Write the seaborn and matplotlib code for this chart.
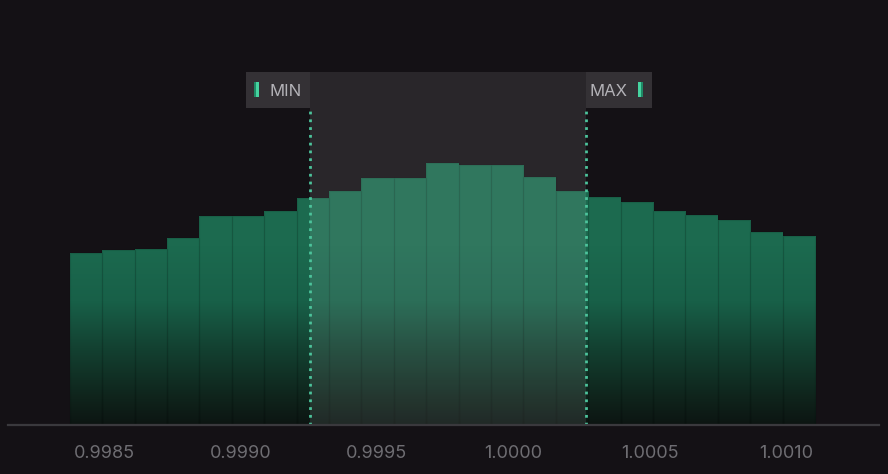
import numpy as np
import pandas as pd
import matplotlib
matplotlib.use('Agg')
import matplotlib.pyplot as plt
import seaborn as sns
from matplotlib.colors import LinearSegmentedColormap
from matplotlib.patches import Rectangle

# Histogram data
bin_start = 0.998375
bin_end = 1.001106
counts = [172, 175, 176, 187, 209, 209, 214, 227, 234, 247, 247, 262,
          260, 260, 248, 234, 228, 223, 214, 210, 205, 193, 189]
tick_values = [0.9985, 0.9990, 0.9995, 1.0000, 1.0005, 1.0010]
tick_labels = ["0.9985", "0.9990", "0.9995", "1.0000", "1.0005", "1.0010"]
range_min = 0.999255
range_max = 1.000267

# Colours
BG = "#141115"
GREEN_STOPS = [(0.0, "#0c1512"), (0.06, "#0f231b"), (0.18, "#134131"),
               (0.29, "#186048"), (0.42, "#1c6a4f"), (1.0, "#1e6d52")]
DOT_GREEN = "#4cc39b"
ICON_GREEN = "#46d3a0"

sns.set_theme(style="dark")
plt.rcParams['font.family'] = ['Inter', 'DejaVu Sans']

fig = plt.figure(figsize=(8.88, 4.74), dpi=100, facecolor=BG)
ax = fig.add_axes([0, 49 / 474, 1, 425 / 474])
ax.set_facecolor(BG)

# x scale: 136.4 px per 0.0005, 0.9985 sits at x=104 px
x_per_px = 0.0005 / 136.4
def px2x(px):
    return 0.9985 + (px - 104) * x_per_px

edges = list(np.linspace(bin_start, bin_end, len(counts) + 1))
centers = [(a + b) / 2 for a, b in zip(edges[:-1], edges[1:])]
df = pd.DataFrame({"value": centers, "count": counts})
sns.histplot(data=df, x="value", weights="count", bins=edges, ax=ax,
             color="#1d6b50", alpha=1, edgecolor=(0, 0, 0, 0.09), linewidth=0.8)

# gradient fill clipped to each bar
cmap = LinearSegmentedColormap.from_list("fade", GREEN_STOPS)
grad = np.linspace(0, 1, 256).reshape(-1, 1)
bars = list(ax.patches)
for p in bars:
    x0 = p.get_x()
    x1 = x0 + p.get_width()
    im = ax.imshow(grad, extent=[x0, x1, 0, 425], origin="lower", cmap=cmap,
                   aspect="auto", zorder=1.5, interpolation="bilinear")
    im.set_clip_path(p)
    p.set_facecolor("none")
    p.set_zorder(1.6)

ax.set_xlim(px2x(0), px2x(888))
ax.set_ylim(0, 425)

# selected range overlay
ax.add_patch(Rectangle((range_min, 0), range_max - range_min, 353,
                       facecolor="white", alpha=0.09, edgecolor="none", zorder=2))

# label boxes
box_w = 64 * x_per_px
ax.add_patch(Rectangle((range_min - box_w, 317), box_w, 36,
                       facecolor="#343135", edgecolor="none", zorder=3))
ax.add_patch(Rectangle((range_max, 317), 66 * x_per_px, 36,
                       facecolor="#343135", edgecolor="none", zorder=3))

ax.text(range_min - 40 * x_per_px, 334, "MIN", color="#b3b2b7", fontsize=12,
        ha="left", va="center", zorder=4)
ax.text(range_max + 3 * x_per_px, 334, "MAX", color="#b3b2b7", fontsize=12,
        ha="left", va="center", zorder=4)

# small handle icons
ax.add_patch(Rectangle((range_min - 56 * x_per_px, 328), 2 * x_per_px, 15,
                       facecolor="#1f8a66", edgecolor="none", zorder=4))
ax.add_patch(Rectangle((range_min - 54 * x_per_px, 328), 3 * x_per_px, 15,
                       facecolor=ICON_GREEN, edgecolor="none", zorder=4))
ax.add_patch(Rectangle((range_max + 52 * x_per_px, 328), 3 * x_per_px, 15,
                       facecolor=ICON_GREEN, edgecolor="none", zorder=4))
ax.add_patch(Rectangle((range_max + 55 * x_per_px, 328), 2 * x_per_px, 15,
                       facecolor="#1f8a66", edgecolor="none", zorder=4))

# dotted range lines
for v in (range_min, range_max):
    ax.plot([v, v], [0, 317], color=DOT_GREEN, lw=2.0,
            linestyle=(0, (1, 1.8)), zorder=5, solid_capstyle="butt")

# axis styling
for side in ("top", "left", "right"):
    ax.spines[side].set_visible(False)
ax.spines["bottom"].set_color("#3a393d")
ax.spines["bottom"].set_linewidth(1.6)
ax.spines["bottom"].set_bounds(px2x(8), px2x(879))
ax.spines["bottom"].set_zorder(6)
ax.set_xticks(tick_values)
ax.set_xticklabels(tick_labels)
ax.set_yticks([])
ax.tick_params(axis="x", length=0, pad=14.5, labelsize=13, labelcolor="#6e6d72")
ax.set_xlabel("")
ax.set_ylabel("")
ax.grid(False)

fig.savefig("out.png", dpi=100, facecolor=BG)
